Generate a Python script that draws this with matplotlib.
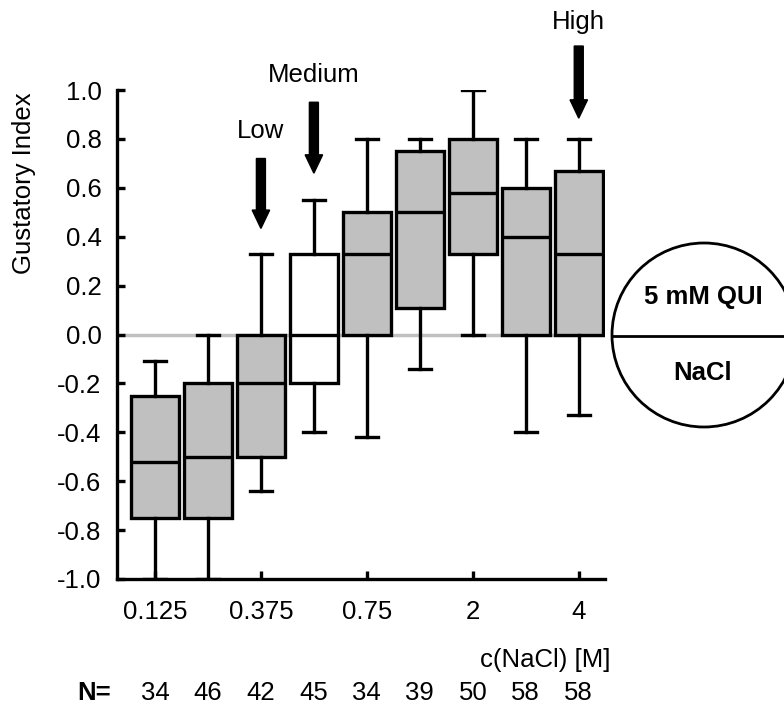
import numpy as np
import matplotlib
matplotlib.use('Agg')
import matplotlib.pyplot as plt
from matplotlib.patches import Circle

plt.rcParams['font.family'] = ['Liberation Sans', 'DejaVu Sans']

# data
concentrations = ['0.125', '0.25', '0.375', '0.5', '0.75', '1', '2', '3', '4']
tick_labels = ['0.125', '', '0.375', '', '0.75', '', '2', '', '4']
n_values = [34, 46, 42, 45, 34, 39, 50, 58, 58]
whisker_low = [-1.0, -1.0, -0.64, -0.40, -0.42, -0.14, 0.0, -0.40, -0.33]
q1 = [-0.75, -0.75, -0.50, -0.20, 0.0, 0.11, 0.33, 0.0, 0.0]
median = [-0.52, -0.50, -0.20, 0.0, 0.33, 0.50, 0.58, 0.40, 0.33]
q3 = [-0.25, -0.20, 0.0, 0.33, 0.50, 0.75, 0.80, 0.60, 0.67]
whisker_high = [-0.11, 0.0, 0.33, 0.55, 0.80, 0.80, 1.0, 0.80, 0.80]
box_colors = ['#c0c0c0', '#c0c0c0', '#c0c0c0', 'white', '#c0c0c0',
              '#c0c0c0', '#c0c0c0', '#c0c0c0', '#c0c0c0']

fs = 18.5

fig = plt.figure(figsize=(7.84, 7.09), dpi=100)
ax = fig.add_axes([0.149, 0.1834, 0.623, 0.6896])

positions = np.arange(1, len(concentrations) + 1)
stats = []
for i in range(len(concentrations)):
    stats.append({'whislo': whisker_low[i], 'q1': q1[i], 'med': median[i],
                  'q3': q3[i], 'whishi': whisker_high[i], 'label': concentrations[i]})

lw = 2.4
ax.axhline(0, color='#c0c0c0', lw=2.5, zorder=0)
bp = ax.bxp(stats, positions=positions, widths=0.9, capwidths=0.42,
            patch_artist=True, showfliers=False,
            boxprops=dict(linewidth=lw, edgecolor='black'),
            medianprops=dict(linewidth=lw, color='black'),
            whiskerprops=dict(linewidth=lw, color='black'),
            capprops=dict(linewidth=lw, color='black'))
for patch, c in zip(bp['boxes'], box_colors):
    patch.set_facecolor(c)

ax.set_xlim(0.28, 9.5)
ax.set_ylim(-1, 1)
ax.set_xticks([1, 3, 5, 7, 9])
ax.set_xticklabels([t for t in tick_labels if t])
yt = np.round(np.arange(-1.0, 1.01, 0.2), 1)
ax.set_yticks(yt)
ax.set_yticklabels(['%.1f' % (v + 0.0) for v in yt])
ax.tick_params(direction='in', length=6, width=lw, labelsize=fs)
ax.tick_params(axis='y', pad=11)
ax.tick_params(axis='x', pad=15)
for s in ['top', 'right']:
    ax.spines[s].set_visible(False)
for s in ['left', 'bottom']:
    ax.spines[s].set_linewidth(lw)

ax.set_ylabel('Gustatory Index', fontsize=fs)
ax.yaxis.set_label_coords(-0.165, 0.81)

# arrows marking Low / Medium / High
marks = [(3, 'Low', 0.72, 0.434, 0.834), (4, 'Medium', 0.95, 0.66, 1.06),
         (9, 'High', 1.18, 0.885, 1.28)]
for xpos, label, y0, y1, ytxt in marks:
    ax.arrow(xpos, y0, 0, y1 - y0, width=0.17, head_width=0.33, head_length=0.075,
             length_includes_head=True, color='black', clip_on=False)
    ax.text(xpos, ytxt, label, ha='center', va='center', fontsize=fs, clip_on=False)

# N row and axis title
for xpos, n in zip(positions, n_values):
    ax.text(xpos, -1.465, str(n), ha='center', va='center', fontsize=fs, clip_on=False)
ax.text(-0.15, -1.465, 'N=', ha='center', va='center', fontsize=fs,
        fontweight='bold', clip_on=False)
ax.text(9.6, -1.33, 'c(NaCl) [M]', ha='right', va='center', fontsize=fs, clip_on=False)

# choice-test diagram
ov = fig.add_axes([0, 0, 1, 1], zorder=-1)
ov.set_xlim(0, 784)
ov.set_ylim(709, 0)
ov.axis('off')
ov.add_patch(Circle((704, 335), 92, fill=False, lw=2.0, color='black'))
ov.plot([612, 796], [336, 336], color='black', lw=2.0)
ov.text(703, 297, '5 mM QUI', ha='center', va='center', fontsize=fs, fontweight='bold')
ov.text(703, 373, 'NaCl', ha='center', va='center', fontsize=fs, fontweight='bold')

fig.savefig('out.png', dpi=100)
